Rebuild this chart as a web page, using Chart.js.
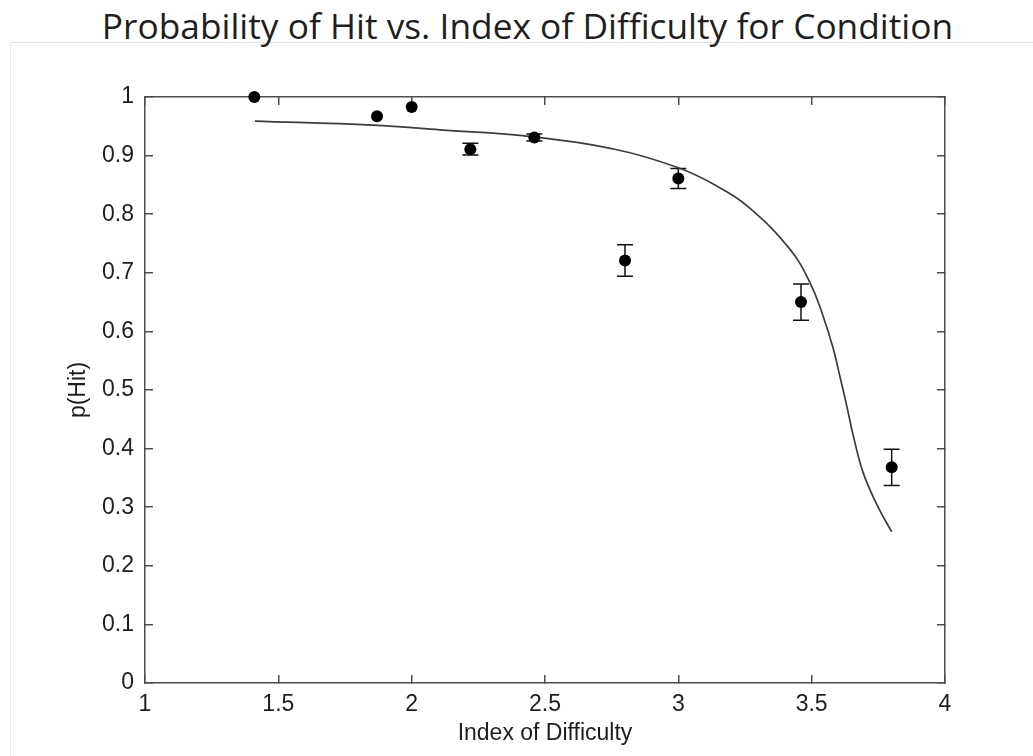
<!DOCTYPE html>
<html>
<head>
<meta charset="utf-8">
<script src="https://cdn.jsdelivr.net/npm/chart.js@4.4.1/dist/chart.umd.min.js"></script>
<style>
  html, body { margin: 0; padding: 0; background: #ffffff; width: 1033px; height: 756px; overflow: hidden; }
  #frame { position: absolute; left: 10px; top: 42px; width: 1023px; height: 714px;
           border-top: 1px solid #e2e2e2; border-left: 1px solid #ebebeb; box-sizing: border-box; }
  #title { position: absolute; left: 11px; top: 10px; width: 1033px; text-align: center;
           font-family: 'Open Sans', 'Lato', sans-serif; font-size: 35.3px; line-height: 30px;
           color: #1f1f1f; white-space: nowrap; }
  #wrap { position: absolute; left: 0; top: 0; width: 1033px; height: 756px; }
</style>
</head>
<body>
<div id="frame"></div>
<div id="title">Probability of Hit vs. Index of Difficulty for Condition</div>
<div id="wrap"><canvas id="c" width="1033" height="756"></canvas></div>
<script>
// ---- data ----
const indexOfDifficulty = [1.41, 1.87, 2.00, 2.22, 2.46, 2.80, 3.00, 3.46, 3.80];
const pHit              = [1.000, 0.967, 0.983, 0.911, 0.931, 0.721, 0.861, 0.650, 0.368];
const pHitError         = [0, 0, 0, 0.010, 0.006, 0.027, 0.017, 0.031, 0.031];

const fitX = [1.412, 1.855, 2.106, 2.455, 2.770, 2.995, 3.141, 3.269, 3.419, 3.494, 3.543, 3.580, 3.606, 3.633, 3.655, 3.693, 3.745, 3.800];
const fitY = [0.959, 0.952, 0.944, 0.932, 0.910, 0.880, 0.849, 0.810, 0.740, 0.683, 0.626, 0.572, 0.523, 0.470, 0.424, 0.359, 0.304, 0.258];

const xTicks      = [1, 1.5, 2, 2.5, 3, 3.5, 4];
const xTickLabels = ['1', '1.5', '2', '2.5', '3', '3.5', '4'];
const yTicks      = [0, 0.1, 0.2, 0.3, 0.4, 0.5, 0.6, 0.7, 0.8, 0.9, 1];
const yTickLabels = ['0', '0.1', '0.2', '0.3', '0.4', '0.5', '0.6', '0.7', '0.8', '0.9', '1'];

const xLabel = 'Index of Difficulty';
const yLabel = 'p(Hit)';

// ---- styles ----
const axisColor = '#4d4d4d';
const textColor = '#1e1e1e';
const tickFont  = { family: "'Liberation Sans', Arial, sans-serif", size: 23 };
const labelFont = { family: "'Liberation Sans', Arial, sans-serif", size: 23 };

const markerPoints = indexOfDifficulty.map((x, i) => ({ x: x, y: pHit[i] }));
const fitPoints = fitX.map((x, i) => ({ x: x, y: fitY[i] }));

const errorBarPlugin = {
  id: 'errorBars',
  beforeDatasetsDraw(chart) {
    const xs = chart.scales.x, ys = chart.scales.y, ctx = chart.ctx;
    const cap = 8;
    ctx.save();
    ctx.strokeStyle = '#111111';
    ctx.lineWidth = 1.5;
    indexOfDifficulty.forEach((x, i) => {
      const e = pHitError[i];
      if (!e) return;
      const px = xs.getPixelForValue(x);
      const pTop = ys.getPixelForValue(pHit[i] + e);
      const pBot = ys.getPixelForValue(pHit[i] - e);
      ctx.beginPath();
      ctx.moveTo(px, pTop); ctx.lineTo(px, pBot);
      ctx.moveTo(px - cap, pTop); ctx.lineTo(px + cap, pTop);
      ctx.moveTo(px - cap, pBot); ctx.lineTo(px + cap, pBot);
      ctx.stroke();
    });
    ctx.restore();
  }
};

function axisCommon(ticksArr, labels, showLabels, padding) {
  return {
    type: 'linear',
    min: ticksArr[0],
    max: ticksArr[ticksArr.length - 1],
    afterBuildTicks: s => { s.ticks = ticksArr.map(v => ({ value: v })); },
    ticks: {
      display: showLabels,
      autoSkip: false,
      maxRotation: 0,
      padding: padding,
      color: textColor,
      font: tickFont,
      callback: (v, i) => labels[i]
    },
    grid: { drawOnChartArea: false, drawTicks: true, tickLength: -8, color: axisColor, lineWidth: 1.5 },
    border: { display: true, color: axisColor, width: 1.5 }
  };
}

const xAxis = axisCommon(xTicks, xTickLabels, true, 16);
xAxis.position = 'bottom';
xAxis.title = { display: true, text: xLabel, color: textColor, font: labelFont, padding: { top: 0, bottom: 9 } };
xAxis.afterFit = s => { s.height = 73; };

const x2Axis = axisCommon(xTicks, xTickLabels, false, 0);
x2Axis.position = 'top';
x2Axis.afterFit = s => { s.height = 0; };

const yAxis = axisCommon(yTicks, yTickLabels, true, 19);
yAxis.position = 'left';
yAxis.title = { display: true, text: yLabel, color: textColor, font: labelFont, padding: { top: 65, bottom: 0 } };
yAxis.afterFit = s => { s.width = 145; };

const y2Axis = axisCommon(yTicks, yTickLabels, false, 0);
y2Axis.position = 'right';
y2Axis.afterFit = s => { s.width = 0; };

new Chart(document.getElementById('c'), {
  type: 'scatter',
  data: {
    datasets: [
      {
        label: 'Observed',
        data: markerPoints,
        backgroundColor: '#000000',
        borderColor: '#000000',
        borderWidth: 0,
        pointRadius: 6,
        pointHoverRadius: 6,
        clip: false
      },
      {
        label: 'Fit',
        data: fitPoints,
        showLine: true,
        borderColor: '#3c3c3c',
        borderWidth: 1.7,
        pointRadius: 0,
        tension: 0.4,
        cubicInterpolationMode: 'default',
        fill: false
      }
    ]
  },
  options: {
    responsive: false,
    animation: false,
    events: [],
    layout: { padding: { left: 0, top: 97, right: 88, bottom: 0 } },
    plugins: { legend: { display: false }, title: { display: false }, tooltip: { enabled: false } },
    scales: { x: xAxis, x2: x2Axis, y: yAxis, y2: y2Axis }
  },
  plugins: [errorBarPlugin]
});
</script>
</body>
</html>
